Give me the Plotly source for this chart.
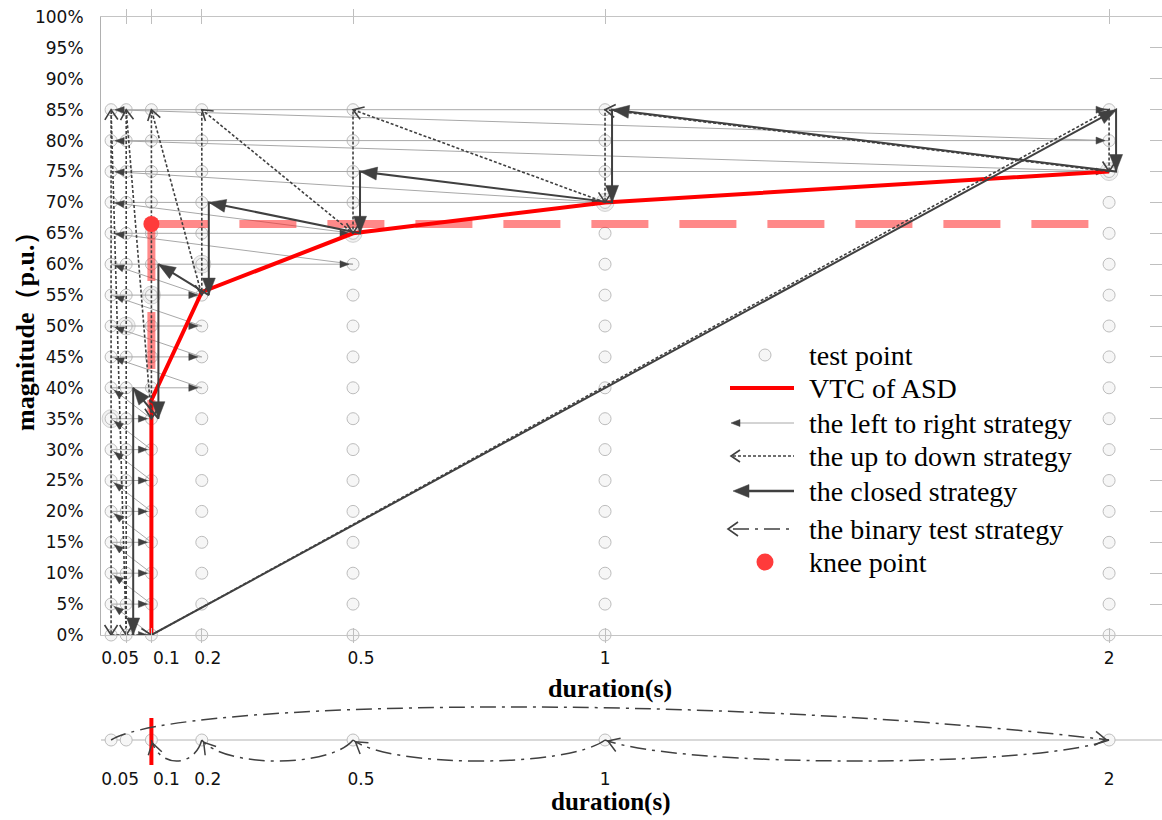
import math
import plotly.graph_objects as go

# ---------------- data ----------------
durations = [0.02, 0.05, 0.1, 0.2, 0.5, 1, 2]                      # tested durations (s)
magnitudes = [0, 5, 10, 15, 20, 25, 30, 35, 40, 45, 50, 55, 60, 65, 70, 75, 80, 85]  # tested magnitudes (%)

x_tick_values = [0.05, 0.1, 0.2, 0.5, 1, 2]
x_tick_labels = ["0.05", "0.1", "0.2", "0.5", "1", "2"]
y_tick_values = [0, 5, 10, 15, 20, 25, 30, 35, 40, 45, 50, 55, 60, 65, 70, 75, 80, 85, 90, 95, 100]
y_tick_labels = ["0%", "5%", "10%", "15%", "20%", "25%", "30%", "35%", "40%", "45%", "50%",
                 "55%", "60%", "65%", "70%", "75%", "80%", "85%", "90%", "95%", "100%"]

# highlighted (larger) test points
big_x = [0.02, 0.05, 0.1, 0.2, 0.5, 1, 2]
big_y = [35, 50, 55, 60, 65, 70, 75]

# VTC of ASD
vtc_x = [0.1, 0.1, 0.2, 0.5, 1, 2]
vtc_y = [0, 38, 55.5, 65, 70, 75]

# knee point and its guide lines
knee_x = [0.1]
knee_y = [66.5]
knee_guide_low = 36
knee_guide_end = 2

# left to right strategy: last duration tested at each magnitude
ltr_end = [0.1, 0.1, 0.1, 0.1, 0.1, 0.1, 0.1, 0.1, 0.2, 0.2, 0.2, 0.2, 0.5, 0.5, 1, 2, 2, 2]

# up to down strategy path
ud_x = [0.1, 2, 2, 1, 1, 0.5, 0.5, 0.2, 0.2, 0.1, 0.1, 0.05, 0.05, 0.02, 0.02, 0.1]
ud_y = [0, 85, 75, 85, 70, 85, 65, 85, 55, 85, 35, 85, 0, 85, 0, 0]

# closed strategy path
cl_x = [0.1, 2, 2, 1, 1, 0.5, 0.5, 0.2, 0.2, 0.1, 0.1, 0.05, 0.05]
cl_y = [0, 85, 75, 85, 70, 75, 65, 70, 55, 60, 35, 40, 0]

# binary test strategy: order of tested durations
bin_order = [0.02, 2, 1, 0.5, 0.2, 0.1]

legend_labels = ["test point", "VTC of ASD", "the left to right strategy", "the up to down strategy",
                 "the closed strategy", "the binary test strategy", "knee point"]

# ---------------- geometry / style ----------------
W, H = 1162, 820
PL, PR, PT, PB = 101, 1162, 17, 635          # main plot area (px)
BT, BB = 698, 766                            # bottom panel (px)
XR = [0, 2.105]
SX = (PR - PL) / (XR[1] - XR[0])             # px per second
SY = (PB - PT) / 100.0                       # px per %
PH = H - PT                                  # paper height (b=0)
Y2R = [-26, 42]                              # bottom panel in px units

DARK = "#404040"
GREY_LINE = "#a8a8a8"
SERIF = "Liberation Serif, Times New Roman, serif"
SANS = "DejaVu Sans, sans-serif"


def paper_x(px):
    return (px - PL) / (PR - PL)


def paper_y(py):
    return (H - py) / PH


def head(x0, y0, x1, y1, length, half, sx=SX, sy=SY, back=0.0):
    dx, dy = (x1 - x0) * sx, (y1 - y0) * sy
    n = math.hypot(dx, dy)
    ux, uy = dx / n, dy / n
    tx, ty = x1 * sx - ux * back, y1 * sy - uy * back
    bx, by = tx - ux * length, ty - uy * length
    nx, ny = -uy * half, ux * half
    pts = [(bx + nx, by + ny), (tx, ty), (bx - nx, by - ny)]
    return [(p[0] / sx, p[1] / sy) for p in pts]


def add_tri(lst_x, lst_y, pts):
    for p in pts + [pts[0]]:
        lst_x.append(p[0]); lst_y.append(p[1])
    lst_x.append(None); lst_y.append(None)


def add_chev(lst_x, lst_y, pts):
    for p in pts:
        lst_x.append(p[0]); lst_y.append(p[1])
    lst_x.append(None); lst_y.append(None)


POINT_MARKER = dict(size=12, color="#f6f6f6", line=dict(color="#bdbdbd", width=1))

fig = go.Figure()

# ---- test points ----
gx = [d for d in durations for m in magnitudes]
gy = [m for d in durations for m in magnitudes]
fig.add_trace(go.Scatter(x=big_x, y=big_y, mode="markers", cliponaxis=False, hoverinfo="skip",
                         marker=dict(size=18, color="#f0f0f0", line=dict(color="#d0d0d0", width=1))))
fig.add_trace(go.Scatter(x=gx, y=gy, mode="markers", cliponaxis=False, hoverinfo="skip", marker=POINT_MARKER))

# ---- left to right strategy ----
lx, ly, hx, hy = [], [], [], []
start = durations[0]
for i, (m, e) in enumerate(zip(magnitudes, ltr_end)):
    segs = [((start, m), (e, m))]
    if i + 1 < len(magnitudes):
        segs.append(((e, m), (start, magnitudes[i + 1])))
    for a, b in segs:
        lx += [a[0], b[0], None]; ly += [a[1], b[1], None]
        add_tri(hx, hy, head(a[0], a[1], b[0], b[1], 9, 3.5, back=4))
fig.add_trace(go.Scatter(x=lx, y=ly, mode="lines", line=dict(color=GREY_LINE, width=1), hoverinfo="skip"))
fig.add_trace(go.Scatter(x=hx, y=hy, mode="lines", fill="toself", fillcolor=DARK,
                         line=dict(color=DARK, width=0.5), hoverinfo="skip"))

# ---- knee guides (pink dashed) ----
fig.add_trace(go.Scatter(x=[knee_x[0], knee_x[0], None, knee_x[0], knee_guide_end],
                         y=[knee_y[0], knee_guide_low, None, knee_y[0], knee_y[0]],
                         mode="lines", hoverinfo="skip",
                         line=dict(color="rgba(255,40,40,0.55)", width=8, dash="57px,31px")))

# ---- VTC ----
fig.add_trace(go.Scatter(x=vtc_x, y=vtc_y, mode="lines", line=dict(color="#ff0000", width=4), hoverinfo="skip"))

# ---- up to down strategy ----
cx, cy = [], []
for i in range(1, len(ud_x)):
    add_chev(cx, cy, head(ud_x[i - 1], ud_y[i - 1], ud_x[i], ud_y[i], 10, 6.5))
fig.add_trace(go.Scatter(x=ud_x, y=ud_y, mode="lines", hoverinfo="skip",
                         line=dict(color=DARK, width=1.6, dash="3px,2px")))
fig.add_trace(go.Scatter(x=cx, y=cy, mode="lines", hoverinfo="skip", line=dict(color=DARK, width=1.6)))

# ---- closed strategy ----
off = 7 / SX
clx = [cl_x[0]] + [v + off for v in cl_x[1:]]
tx_, ty_ = [], []
for i in range(1, len(clx)):
    add_tri(tx_, ty_, head(clx[i - 1], cl_y[i - 1], clx[i], cl_y[i], 17, 6.5))
fig.add_trace(go.Scatter(x=clx, y=cl_y, mode="lines", hoverinfo="skip", line=dict(color=DARK, width=2)))
fig.add_trace(go.Scatter(x=tx_, y=ty_, mode="lines", fill="toself", fillcolor=DARK,
                         line=dict(color=DARK, width=0.5), hoverinfo="skip"))

# ---- knee point ----
fig.add_trace(go.Scatter(x=knee_x, y=knee_y, mode="markers", hoverinfo="skip",
                         marker=dict(size=16, color="#ff3b3b")))

# ---- legend (drawn by hand) ----
def lx_(p):
    return (p - PL) / SX


def ly_(p):
    return (PB - p) / SY


rows = [355, 388, 423, 456, 491, 529, 562]
fig.add_trace(go.Scatter(x=[lx_(765)], y=[ly_(rows[0])], mode="markers", cliponaxis=False, hoverinfo="skip",
                         marker=POINT_MARKER))
fig.add_trace(go.Scatter(x=[lx_(730), lx_(794)], y=[ly_(rows[1])] * 2, mode="lines", hoverinfo="skip",
                         line=dict(color="#ff0000", width=4)))
fig.add_trace(go.Scatter(x=[lx_(733), lx_(794)], y=[ly_(rows[2])] * 2, mode="lines", hoverinfo="skip",
                         line=dict(color=GREY_LINE, width=1)))
fig.add_trace(go.Scatter(x=[lx_(733), lx_(794)], y=[ly_(rows[3])] * 2, mode="lines", hoverinfo="skip",
                         line=dict(color=DARK, width=1.6, dash="3px,2px")))
fig.add_trace(go.Scatter(x=[lx_(745), lx_(794)], y=[ly_(rows[4])] * 2, mode="lines", hoverinfo="skip",
                         line=dict(color=DARK, width=2.5)))
fig.add_trace(go.Scatter(x=[lx_(733), lx_(794)], y=[ly_(rows[5])] * 2, mode="lines", hoverinfo="skip",
                         line=dict(color=DARK, width=1.6, dash="16px,6px,3px,6px")))
fig.add_trace(go.Scatter(x=[lx_(765)], y=[ly_(rows[6])], mode="markers", cliponaxis=False, hoverinfo="skip",
                         marker=dict(size=17, color="#ff3b3b")))
lgx, lgy, lcx, lcy = [], [], [], []
add_tri(lgx, lgy, head(lx_(760), ly_(rows[2]), lx_(731), ly_(rows[2]), 9, 3.5))
add_tri(lgx, lgy, head(lx_(760), ly_(rows[4]), lx_(733), ly_(rows[4]), 16, 6.5))
add_chev(lcx, lcy, head(lx_(760), ly_(rows[3]), lx_(731), ly_(rows[3]), 9, 6))
add_chev(lcx, lcy, head(lx_(760), ly_(rows[5]), lx_(728), ly_(rows[5]), 10, 7))
fig.add_trace(go.Scatter(x=lgx, y=lgy, mode="lines", fill="toself", fillcolor=DARK,
                         line=dict(color=DARK, width=0.5), hoverinfo="skip"))
fig.add_trace(go.Scatter(x=lcx, y=lcy, mode="lines", line=dict(color=DARK, width=1.6), hoverinfo="skip"))
for r, t in zip(rows, legend_labels):
    fig.add_annotation(x=lx_(807), y=ly_(r), xref="x", yref="y", text=t, showarrow=False,
                       xanchor="left", yanchor="middle", font=dict(family=SERIF, size=28, color="black"))

# ---- bottom panel: binary test strategy ----
fig.add_trace(go.Scatter(x=durations, y=[0] * len(durations), xaxis="x2", yaxis="y2", mode="markers",
                         cliponaxis=False, hoverinfo="skip", marker=POINT_MARKER))
fig.add_trace(go.Scatter(x=[vtc_x[0], vtc_x[0]], y=[-25, 22], xaxis="x2", yaxis="y2", mode="lines",
                         hoverinfo="skip", line=dict(color="#ff0000", width=4)))
bcx, bcy = [], []
for a, b in zip(bin_order[:-1], bin_order[1:]):
    if b > a:
        c1 = (a + 0.13, 40); c2 = (b - 0.8, 48)
    else:
        span = a - b
        c1 = (a - 0.15 * span, -28); c2 = (b + 0.15 * span, -28)
    fig.add_shape(type="path", xref="x2", yref="y2",
                  path=f"M {a},0 C {c1[0]},{c1[1]} {c2[0]},{c2[1]} {b},0",
                  line=dict(color=DARK, width=1.5, dash="16px,6px,3px,6px"))
    add_chev(bcx, bcy, head(c2[0], c2[1], b, 0, 11, 7, sx=SX, sy=1.0, back=3))
fig.add_trace(go.Scatter(x=bcx, y=bcy, xaxis="x2", yaxis="y2", mode="lines", hoverinfo="skip",
                         line=dict(color=DARK, width=1.5)))

# dummy traces so the overlay axes are drawn
fig.add_trace(go.Scatter(x=[None], y=[None], xaxis="x3", yaxis="y", hoverinfo="skip"))
fig.add_trace(go.Scatter(x=[None], y=[None], xaxis="x", yaxis="y3", hoverinfo="skip"))

# label positions (labels sit slightly off their columns, as in the original)
label_shift_px = [-6, 15, 6, 8, 0, 0]
label_pos = [v + s / SX for v, s in zip(x_tick_values, label_shift_px)]

tickfont = dict(family=SANS, size=17, color="#111111")
fig.update_layout(
    width=W, height=H, margin=dict(l=PL, r=W - PR, t=PT, b=0, autoexpand=False),
    plot_bgcolor="white", paper_bgcolor="white", showlegend=False,
    xaxis=dict(domain=[0, 1], range=XR, anchor="y", tickvals=x_tick_values, ticks="inside", ticklen=7,
               tickcolor="#bfbfbf", showticklabels=False, showline=True, linecolor="#c4c4c4",
               mirror="allticks", showgrid=False, zeroline=False, automargin=False),
    yaxis=dict(domain=[paper_y(PB), 1], range=[0, 100], anchor="x", tickvals=y_tick_values,
               ticktext=y_tick_labels, ticks="", showline=True, linecolor="#b0b0b0", mirror=True,
               showgrid=False, zeroline=False, ticklabelstandoff=13, tickfont=tickfont, automargin=False),
    xaxis3=dict(overlaying="x", range=XR, anchor="y", side="bottom", tickvals=label_pos,
                ticktext=x_tick_labels, ticks="", showline=False, showgrid=False, zeroline=False,
                tickfont=tickfont, ticklabelstandoff=11, automargin=False),
    yaxis3=dict(overlaying="y", side="right", anchor="x", range=[0, 100], tickvals=y_tick_values,
                ticks="inside", ticklen=12, tickcolor="#bfbfbf", showticklabels=False, showgrid=False,
                zeroline=False, showline=False, automargin=False),
    xaxis2=dict(domain=[0, 1], range=XR, anchor="y2", tickvals=label_pos, ticktext=x_tick_labels,
                ticks="", showline=False, showgrid=False, zeroline=False, tickfont=tickfont,
                ticklabelstandoff=1, automargin=False),
    yaxis2=dict(domain=[paper_y(BB), paper_y(BT)], range=Y2R, anchor="x2", showticklabels=False,
                ticks="", showgrid=False, zeroline=True, zerolinecolor="#d9d9d9", zerolinewidth=1.5,
                showline=False, automargin=False),
)

title_font = dict(family=SERIF, size=26, color="black")
fig.add_annotation(x=paper_x(610), y=paper_y(688), xref="paper", yref="paper", xanchor="center",
                   yanchor="middle", text="<b>duration(s)</b>", showarrow=False, font=title_font)
fig.add_annotation(x=paper_x(610), y=paper_y(802), xref="paper", yref="paper", xanchor="center",
                   yanchor="middle", text="<b>duration(s)</b>", showarrow=False,
                   font=dict(family=SERIF, size=25, color="black"))
fig.add_annotation(x=paper_x(25), y=paper_y(325), xref="paper", yref="paper", xanchor="center",
                   yanchor="middle", text="<b>magnitude（p.u.）</b>", showarrow=False, textangle=-90,
                   font=dict(family=SERIF, size=26, color="black"))

fig.write_html("out.html", config={"displayModeBar": False},
               post_script="document.body.style.margin='0px';")
